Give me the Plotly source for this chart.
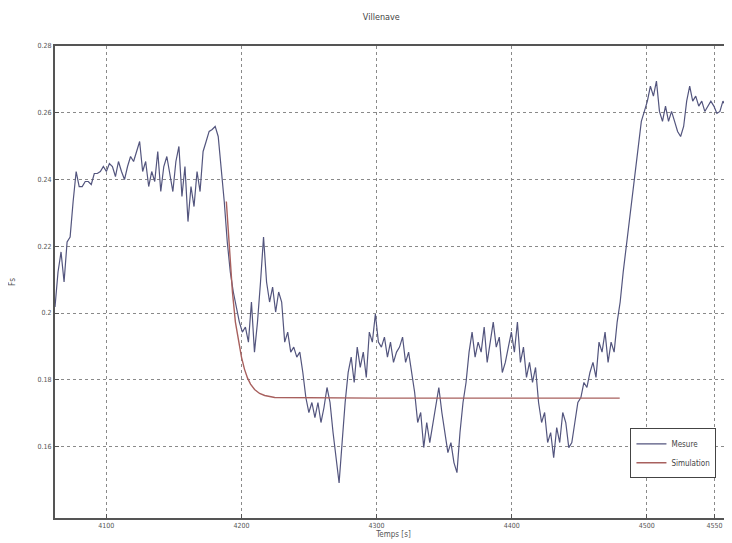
import numpy as np
import plotly.graph_objects as go

# Mesure: Fs values, regular sampling between t_start and t_end
t_start, t_end = 4062, 4563
mesure = [
    0.2018, 0.2123, 0.2183, 0.2093, 0.2213, 0.2228, 0.2334, 0.2424, 0.2379,
    0.2379, 0.2394, 0.2394, 0.2385, 0.2418, 0.2418, 0.2424, 0.2439, 0.2424, 0.2448,
    0.2439, 0.2409, 0.2454, 0.2424, 0.2400, 0.2439, 0.2469, 0.2454, 0.2484,
    0.2514, 0.2424, 0.2454, 0.2379, 0.2424, 0.2394, 0.2484, 0.2364, 0.2439, 0.2469,
    0.2409, 0.2364, 0.2454, 0.2499, 0.2349, 0.2439, 0.2274, 0.2379, 0.2319, 0.2424,
    0.2364, 0.2484, 0.2514, 0.2544, 0.2550, 0.2559, 0.2529, 0.2439, 0.2334, 0.2213,
    0.2123, 0.2063, 0.2018, 0.1973, 0.1943, 0.1958, 0.1913, 0.2033, 0.1883, 0.1973,
    0.2093, 0.2228, 0.2093, 0.2033, 0.2078, 0.2003, 0.2063, 0.2033, 0.1913, 0.1943,
    0.1883, 0.1898, 0.1868, 0.1883, 0.1822, 0.1747, 0.1702, 0.1732, 0.1687, 0.1732,
    0.1672, 0.1717, 0.1777, 0.1732, 0.1642, 0.1567, 0.1491, 0.1612, 0.1732, 0.1822,
    0.1868, 0.1792, 0.1898, 0.1837, 0.1883, 0.1807, 0.1943, 0.1913, 0.1997, 0.1913,
    0.1898, 0.1928, 0.1868, 0.1913, 0.1852, 0.1883, 0.1898, 0.1928, 0.1852, 0.1883,
    0.1822, 0.1762, 0.1672, 0.1702, 0.1597, 0.1672, 0.1612, 0.1672, 0.1732, 0.1777,
    0.1702, 0.1642, 0.1582, 0.1612, 0.1552, 0.1522, 0.1642, 0.1732, 0.1792, 0.1883,
    0.1943, 0.1868, 0.1913, 0.1883, 0.1958, 0.1852, 0.1913, 0.1973, 0.1898, 0.1928,
    0.1822, 0.1852, 0.1898, 0.1943, 0.1883, 0.1973, 0.1852, 0.1898, 0.1807, 0.1852,
    0.1792, 0.1837, 0.1732, 0.1672, 0.1702, 0.1612, 0.1642, 0.1567, 0.1657, 0.1612,
    0.1702, 0.1672, 0.1597, 0.1612, 0.1672, 0.1732, 0.1747, 0.1792, 0.1777, 0.1822,
    0.1852, 0.1807, 0.1913, 0.1883, 0.1943, 0.1852, 0.1913, 0.1883, 0.1973, 0.2033,
    0.2123, 0.2198, 0.2274, 0.2349, 0.2439, 0.2514, 0.2574, 0.2604, 0.2635, 0.2680,
    0.2650, 0.2695, 0.2604, 0.2574, 0.2620, 0.2574, 0.2604, 0.2574, 0.2544, 0.2529,
    0.2559, 0.2635, 0.2680, 0.2635, 0.2650, 0.2620, 0.2635, 0.2604, 0.2620, 0.2635,
    0.2620, 0.2598, 0.2604, 0.2635, 0.2620, 0.2635, 0.2629,
]
t_mesure = np.linspace(t_start, t_end, len(mesure))

# Simulation
t_simu = [4188.8, 4191.0, 4193.3, 4195.5, 4197.8, 4200.0, 4202.2, 4204.5,
          4206.7, 4209.7, 4213.4, 4217.2, 4224.6, 4300.0, 4400.0, 4479.9]
simu = [0.2334, 0.2183, 0.2063, 0.1973, 0.1913, 0.1868, 0.1832, 0.1805,
        0.1787, 0.1771, 0.1759, 0.1753, 0.1747, 0.1745, 0.1745, 0.1745]

x_ticks = [4100, 4200, 4300, 4400, 4500, 4550]
y_ticks = [0.16, 0.18, 0.2, 0.22, 0.24, 0.26, 0.28]
y_labels = ['0.16', '0.18', '0.2', '0.22', '0.24', '0.26', '0.28']

font = dict(family='DejaVu Sans Condensed, DejaVu Sans', size=8, color='#555555')

fig = go.Figure()
fig.add_trace(go.Scatter(x=t_mesure, y=mesure, mode='lines', name='Mesure',
                         line=dict(color='#53557e', width=1.2)))
fig.add_trace(go.Scatter(x=t_simu, y=simu, mode='lines', name='Simulation',
                         line=dict(color='#a8605e', width=1.4)))

fig.update_layout(
    width=732, height=543,
    paper_bgcolor='white', plot_bgcolor='white',
    font=font,
    margin=dict(l=47, r=8, t=38, b=33, autoexpand=False),
    title=dict(text='Villenave', x=0.51, y=0.99, xanchor='center', yanchor='top',
               font=dict(size=9, color='#444444'), automargin=False),
    showlegend=True,
    legend=dict(x=0.85, y=0.19, xanchor='left', yanchor='top',
                bgcolor='white', bordercolor='#444444', borderwidth=1,
                font=dict(size=8, color='#444444'), tracegroupgap=0),
)
fig.update_xaxes(
    range=[t_start, t_end], tickvals=x_ticks, ticktext=[str(v) for v in x_ticks],
    showgrid=True, gridcolor='#8a8a8a', griddash='dot', gridwidth=1,
    showline=True, linecolor='#555555', linewidth=2, mirror=True,
    ticks='inside', ticklen=4, tickcolor='#555555', zeroline=False,
    automargin=False, tickfont=dict(size=7),
    title=dict(text='Temps [s]', standoff=0, font=dict(size=8)),
)
fig.update_yaxes(
    range=[0.1386, 0.28], tickvals=y_ticks, ticktext=y_labels,
    showgrid=True, gridcolor='#8a8a8a', griddash='dot', gridwidth=1,
    showline=True, linecolor='#555555', linewidth=2, mirror=True,
    ticks='inside', ticklen=4, tickcolor='#555555', zeroline=False,
    automargin=False, tickfont=dict(size=7),
    title=dict(text='Fs', standoff=22, font=dict(size=8)),
)

fig.write_html("out.html")
